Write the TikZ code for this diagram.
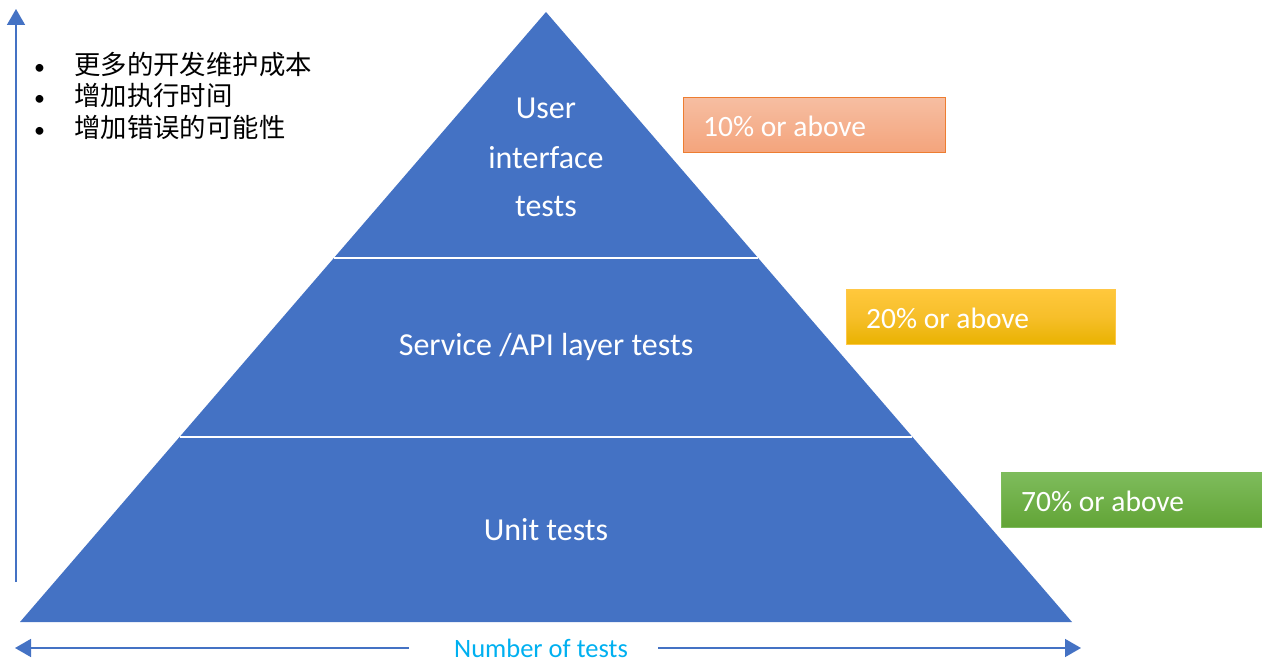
\documentclass[tikz,border=0pt]{standalone}
\usepackage{fontspec}
\setmainfont{Carlito}
\newfontfamily\cjk{Noto Sans CJK SC}
\usetikzlibrary{arrows.meta}
\definecolor{pyrblue}{HTML}{4472C4}
\definecolor{axblue}{HTML}{00B0F0}
\definecolor{orline}{HTML}{ED7D31}
\definecolor{ortop}{HTML}{F6BEA2}
\definecolor{orbot}{HTML}{F4A47C}
\definecolor{gdline}{HTML}{FFC746}
\definecolor{gdtop}{HTML}{FFC83C}
\definecolor{gdbot}{HTML}{E9B200}
\definecolor{grline}{HTML}{7DBB5A}
\definecolor{grtop}{HTML}{7EBC5C}
\definecolor{grbot}{HTML}{62A436}
\newcommand\costdot{\makebox[40pt][l]{\fontspec{Carlito}\fontsize{22}{32}\selectfont\textbullet}}
\tikzset{
  layertext/.style={text=white, font=\fontsize{32}{38}\selectfont, align=center},
  sharebox/.style={draw, line width=1pt, minimum width=#1, minimum height=55pt,
    anchor=north west, inner sep=0pt},
  sharetext/.style={text=white, font=\fontsize{29.5}{34}\selectfont, anchor=west, inner sep=0pt},
  axis/.style={draw=pyrblue, line width=1.6pt},
  tip/.style={-{Triangle[length=16pt,width=18pt]}},
}
\begin{document}
\begin{tikzpicture}[x=1pt,y=-1pt]
\useasboundingbox (0,0) rectangle (1262,660);

% pyramid
\fill[pyrblue] (546,12) -- (1072,622) -- (20,622) -- cycle;
\draw[white, line width=2.8pt] (334,258) -- (758,258);
\draw[white, line width=2.8pt] (180,437) -- (912,437);

\node[layertext] (ui1) at (546,108) {User};
\node[layertext] (ui2) at (546,158) {interface};
\node[layertext] (ui3) at (546,207) {tests};
\node[layertext] (api) at (546,347) {Service /API layer tests};
\node[layertext] (unit) at (546,530) {Unit tests};

% percentage boxes
\node[sharebox=262pt, draw=orline, top color=ortop, bottom color=orbot] (b10) at (683,97) {};
\node[sharetext] (t10) at (703,126) {10\% or above};
\node[sharebox=269pt, draw=gdline, top color=gdtop, bottom color=gdbot, middle color=gdline!60!gdbot] (b20) at (846,289) {};
\node[sharetext] (t20) at (866,318) {20\% or above};
\node[sharebox=262pt, draw=grline, top color=grtop, bottom color=grbot] (b70) at (1001,472) {};
\node[sharetext] (t70) at (1021,501) {70\% or above};

% cost bullets
\node[anchor=north west, font=\cjk\fontsize{26.4}{31.5}\selectfont, align=left, inner sep=0pt] (cost) at (34,52) {%
  \costdot 更多的开发维护成本\\
  \costdot 增加执行时间\\
  \costdot 增加错误的可能性};

% axes
\coordinate (vbot) at (16,582);
\coordinate (vtop) at (16,9);
\draw[axis, tip] (vbot) -- (vtop);

\node[text=axblue, font=\fontsize{26.5}{30}\selectfont, inner sep=0pt] (num) at (541,648) {Number of tests};
\coordinate (hleft) at (15,648);
\coordinate (hright) at (1081,648);
\draw[axis, tip] (409,648) -- (hleft);
\draw[axis, tip] (658,648) -- (hright);
\end{tikzpicture}
\end{document}
